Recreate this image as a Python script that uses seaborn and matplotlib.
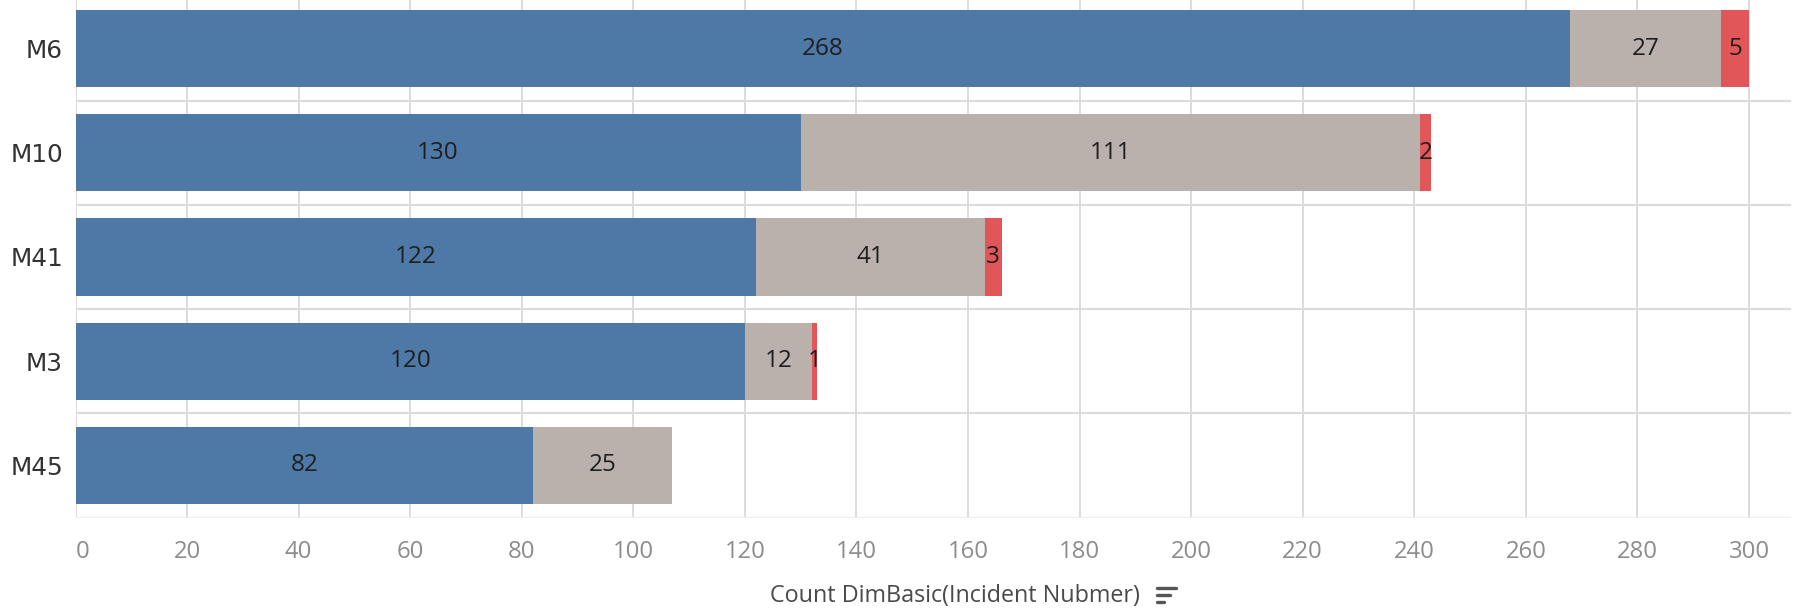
import numpy as np
import pandas as pd
import matplotlib
matplotlib.use("Agg")
import matplotlib.pyplot as plt
import seaborn as sns
from matplotlib.lines import Line2D

categories = ["M6", "M10", "M41", "M3", "M45"]
series_blue = [268, 130, 122, 120, 82]
series_gray = [27, 111, 41, 12, 25]
series_red = [5, 2, 3, 1, 0]
xticks = list(range(0, 301, 20))

c_blue = "#4E79A7"
c_gray = "#BAB0AC"
c_red = "#E15759"
grid_c = "#DCDCDC"

sns.set_theme(style="white")
plt.rcParams["font.family"] = ["Open Sans", "DejaVu Sans"]

b = np.array(series_blue)
g = np.array(series_gray)
r = np.array(series_red)
df = pd.DataFrame({"cat": categories, "blue": b, "bg": b + g, "total": b + g + r})

W, H = 1794, 614
ax_left, ax_right = 75.5, 1791.0
ax_top, ax_bot = -3.6, 517.5
fig = plt.figure(figsize=(W / 100, H / 100), dpi=100)
ax = fig.add_axes([ax_left / W, 1 - ax_bot / H, (ax_right - ax_left) / W, (ax_bot - ax_top) / H])

for col, color in [("total", c_red), ("bg", c_gray), ("blue", c_blue)]:
    sns.barplot(data=df, x=col, y="cat", order=categories, orient="h",
                color=color, width=0.74, linewidth=0, saturation=1, ax=ax, zorder=3)

px_per_unit = (1749 - ax_left) / 300
ax.set_xlim(0, (ax_right - ax_left) / px_per_unit)
ax.set_ylim(4.5, -0.5)

# gridlines
for xv in xticks:
    ax.axvline(xv, color=grid_c, lw=1.4, zorder=1)
for i in range(len(categories)):
    yv = i + 0.5
    ax.axhline(yv, color="#EEEEEE" if i == len(categories) - 1 else grid_c, lw=1.6, zorder=2)

# labels
lab_kw = dict(ha="center", va="center", fontsize=17.5, color="#1E1E1E", zorder=5,
              family=["Open Sans", "DejaVu Sans"])
for i in range(len(categories)):
    left = 0
    for vals in (b, g, r):
        v = vals[i]
        if v > 0:
            ax.text(left + v / 2, i, str(v), **lab_kw)
        left += v

for s in ax.spines.values():
    s.set_visible(False)

ax.set_xticks(xticks)
ax.set_xticklabels([str(t) for t in xticks])
ax.tick_params(axis="x", length=7.5, width=1.4, color=grid_c, labelsize=17.2,
               labelcolor="#8C8C8C", pad=9)
ax.get_xticklabels()[0].set_ha("left")
ax.tick_params(axis="y", length=0, labelsize=17.8, labelcolor="#333333", pad=9)
for t in ax.get_yticklabels():
    t.set_family(["DejaVu Sans"])
ax.set_ylabel("")
ax.set_xlabel("Count DimBasic(Incident Nubmer)", fontsize=16.8, color="#4A4A4A")
ax.xaxis.set_label_coords((955 - ax_left) / (ax_right - ax_left), -(596 - ax_bot) / (ax_bot - ax_top))
ax.xaxis.label.set_va("center")

# sort icon
for w, yy in [(19, 588), (13, 595), (6.5, 602)]:
    fig.add_artist(Line2D([1157 / W, (1157 + w) / W], [1 - yy / H, 1 - yy / H],
                          color="#555555", lw=2.4, transform=fig.transFigure))

fig.savefig("out.png", dpi=100)
